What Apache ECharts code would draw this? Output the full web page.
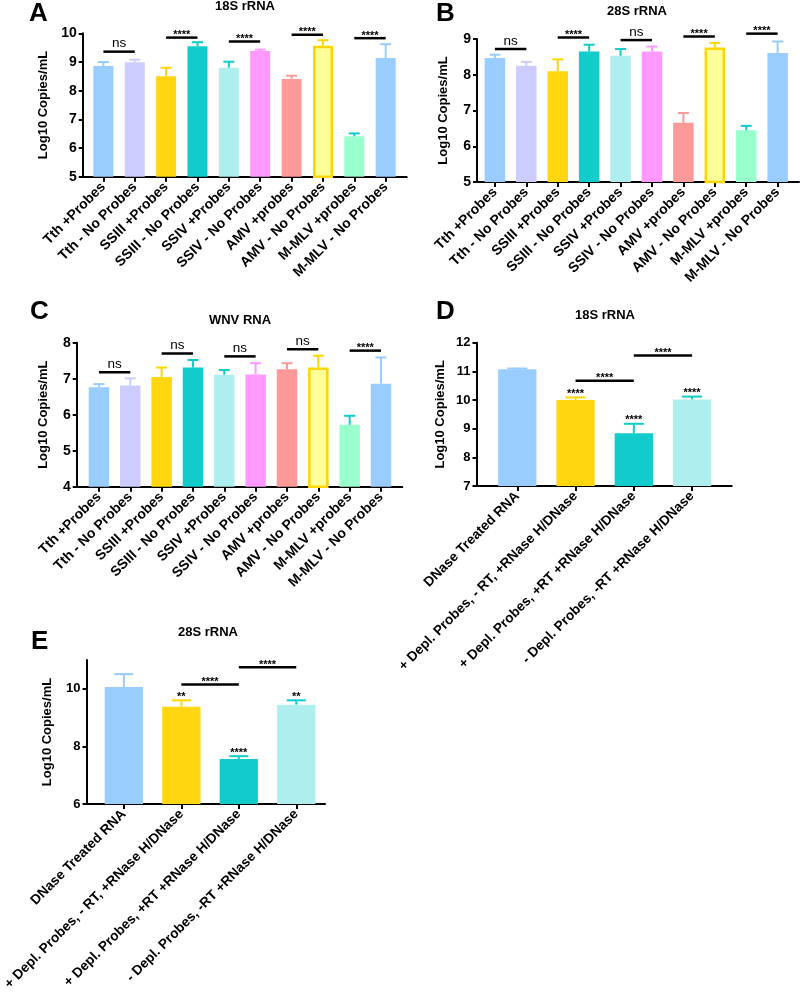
<!DOCTYPE html>
<html>
<head>
<meta charset="utf-8">
<script src="https://cdn.jsdelivr.net/npm/echarts@6/dist/echarts.min.js"></script>
<style>html,body{margin:0;padding:0;background:#fff}#c{width:800px;height:998px}</style>
</head>
<body>
<div id="c"></div>
<script>
// ---------- data ----------
const catsABC = ['Tth +Probes','Tth - No Probes','SSIII +Probes','SSIII - No Probes','SSIV +Probes','SSIV - No Probes','AMV +probes','AMV - No Probes','M-MLV +probes','M-MLV - No Probes'];
const catsDE = ['DNase Treated RNA','+ Depl. Probes, - RT, +RNase H/DNase','+ Depl. Probes, +RT +RNase H/DNase','- Depl. Probes, -RT +RNase H/DNase'];

const aMean = [8.86, 8.99, 8.50, 9.55, 8.80, 9.38, 8.41, 9.57, 6.41, 9.14];
const aSD   = [0.14, 0.09, 0.30, 0.14, 0.21, 0.05, 0.11, 0.19, 0.10, 0.48];
const bMean = [8.47, 8.25, 8.10, 8.65, 8.53, 8.65, 6.66, 8.76, 6.45, 8.61];
const bSD   = [0.09, 0.11, 0.33, 0.19, 0.19, 0.14, 0.27, 0.13, 0.12, 0.32];
const cMean = [6.76, 6.81, 7.05, 7.31, 7.11, 7.12, 7.26, 7.31, 5.72, 6.86];
const cSD   = [0.09, 0.20, 0.26, 0.21, 0.13, 0.31, 0.17, 0.33, 0.25, 0.73];
const dMean = [11.07, 10.00, 8.84, 10.02];
const dSD   = [0.03, 0.09, 0.33, 0.10];
const eMean = [10.06, 9.38, 7.56, 9.45];
const eSD   = [0.45, 0.22, 0.10, 0.15];

// significance brackets: [from category, to category, y value, label]
const aSig = [[0,1,9.36,'ns'],[2,3,9.85,'****'],[4,5,9.71,'****'],[6,7,9.95,'****'],[8,9,9.83,'****']];
const bSig = [[0,1,8.72,'ns'],[2,3,9.04,'****'],[4,5,8.97,'ns'],[6,7,9.07,'****'],[8,9,9.15,'****']];
const cSig = [[0,1,7.18,'ns'],[2,3,7.70,'ns'],[4,5,7.62,'ns'],[6,7,7.82,'ns'],[8,9,7.78,'****']];
const dSig = [[1,2,10.67,'****'],[2,3,11.55,'****']];
const eSig = [[1,2,10.15,'****'],[2,3,10.75,'****']];
const dStars = ['', '****', '****', '****'];
const eStars = ['', '**', '****', '**'];

const yTicksA = [5,6,7,8,9,10];
const yTicksB = [5,6,7,8,9];
const yTicksC = [4,5,6,7,8];
const yTicksD = [7,8,9,10,11,12];
const yTicksE = [6,8,10];

// ---------- styles ----------
const FONT = '"Liberation Sans", Arial, Helvetica, sans-serif';
const fillABC = ['#99CCFF','#CCCCFF','#FFD60F','#12CCCC','#AFEEEE','#FF99FF','#FF9999','#FFFF99','#99FFCC','#99CCFF'];
const errABC  = ['#99CCFF','#CCCCFF','#FFD700','#12CCCC','#12CCCC','#FF99FF','#FF9999','#FFD700','#12CCCC','#99CCFF'];
const borderABC = [null,null,null,null,null,null,null,'#FFD700',null,null];
const fillDE = ['#99CCFF','#FFD60F','#12CCCC','#AFEEEE'];
const errDE  = ['#99CCFF','#FFD700','#12CCCC','#12CCCC'];

const panels = [
  {key:'A', cats:catsABC, mean:aMean, sd:aSD, sig:aSig, stars:null, yTicks:yTicksA, ymin:5, ymax:10,
   left:82.7, width:324, top:33.3, height:143.4, xmin:-0.66, xmax:9.67, barW:20, cap:11, fs:14, yfs:14, nameGap:33,
   fill:fillABC, err:errABC, border:borderABC},
  {key:'B', cats:catsABC, mean:bMean, sd:bSD, sig:bSig, stars:null, yTicks:yTicksB, ymin:5, ymax:9,
   left:477, width:322, top:39, height:143, xmin:-0.57, xmax:9.68, barW:20.5, cap:11, fs:14, yfs:14, nameGap:27,
   fill:fillABC, err:errABC, border:borderABC},
  {key:'C', cats:catsABC, mean:cMean, sd:cSD, sig:cSig, stars:null, yTicks:yTicksC, ymin:4, ymax:8,
   left:76.7, width:325.6, top:342.7, height:144, xmin:-0.71, xmax:9.68, barW:20.5, cap:11, fs:14, yfs:14, nameGap:27,
   fill:fillABC, err:errABC, border:borderABC},
  {key:'D', cats:catsDE, mean:dMean, sd:dSD, sig:dSig, stars:dStars, yTicks:yTicksD, ymin:7, ymax:12,
   left:476.5, width:255.2, top:342.7, height:143.3, xmin:-0.70, xmax:3.68, barW:38.3, cap:20, fs:13.7, yfs:13, nameGap:29.5,
   fill:fillDE, err:errDE, border:[null,null,null,null]},
  {key:'E', cats:catsDE, mean:eMean, sd:eSD, sig:eSig, stars:eStars, yTicks:yTicksE, ymin:6, ymax:11,
   left:82.7, width:242.3, top:660, height:144, xmin:-0.65, xmax:3.50, barW:38.3, cap:19, fs:13.7, yfs:13, nameGap:32.7,
   fill:fillDE, err:errDE, border:[null,null,null,null]}
];

const grid = [], xAxis = [], yAxis = [], series = [];
const axisLineStyle = {color:'#000', width:2};

panels.forEach((p, k) => {
  grid.push({left:p.left, top:p.top, width:p.width, height:p.height, containLabel:false});
  const idx = p.cats.map((_, i) => i);
  xAxis.push({
    type:'value', gridIndex:k, min:p.xmin, max:p.xmax,
    splitLine:{show:false},
    axisLine:{show:true, onZero:false, lineStyle:axisLineStyle},
    axisTick:{show:true, customValues:idx, length:5, lineStyle:{color:'#000', width:2}},
    axisLabel:{customValues:idx, rotate:45, margin:8, color:'#000', fontFamily:FONT, fontWeight:'bold', fontSize:p.fs,
      formatter: v => p.cats[Math.round(v)] || ''}
  });
  yAxis.push({
    type:'value', gridIndex:k, min:p.ymin, max:p.ymax,
    name:'Log10 Copies/mL', nameLocation:'middle', nameGap:p.nameGap,
    nameTextStyle:{color:'#000', fontFamily:FONT, fontWeight:'bold', fontSize:13},
    splitLine:{show:false},
    axisLine:{show:true, onZero:false, lineStyle:axisLineStyle},
    axisTick:{show:true, customValues:p.yTicks, length:4, lineStyle:{color:'#000', width:2}},
    axisLabel:{customValues:p.yTicks, margin:6, color:'#000', fontFamily:FONT, fontWeight:'bold', fontSize:p.yfs}
  });
  // bars
  series.push({
    type:'bar', xAxisIndex:k, yAxisIndex:k, barWidth:p.barW,
    data: p.mean.map((v, i) => ({
      value:[i, v],
      itemStyle:{color:p.fill[i], borderColor:p.border[i] || p.fill[i], borderWidth:p.border[i] ? 2.5 : 0}
    })),
    z:2, silent:true
  });
  // error bars
  series.push({
    type:'custom', xAxisIndex:k, yAxisIndex:k, z:3, silent:true,
    data: p.mean.map((v, i) => [i, v, p.sd[i]]),
    renderItem: (params, api) => {
      const i = api.value(0), m = api.value(1), s = api.value(2);
      const p0 = api.coord([i, m]), p1 = api.coord([i, m + s]);
      const col = p.err[i];
      return {type:'group', children:[
        {type:'line', shape:{x1:p0[0], y1:p0[1], x2:p1[0], y2:p1[1]}, style:{stroke:col, lineWidth:2}},
        {type:'line', shape:{x1:p1[0]-p.cap/2, y1:p1[1], x2:p1[0]+p.cap/2, y2:p1[1]}, style:{stroke:col, lineWidth:2}}
      ]};
    }
  });
  // significance brackets
  series.push({
    type:'custom', xAxisIndex:k, yAxisIndex:k, z:4, silent:true, clip:false,
    data: p.sig.map(s => [s[0], s[1], s[2]]),
    renderItem: (params, api) => {
      const s = p.sig[params.dataIndex];
      const a = api.coord([s[0], s[2]]), b = api.coord([s[1], s[2]]);
      const isNs = s[3] === 'ns';
      return {type:'group', children:[
        {type:'line', shape:{x1:a[0], y1:a[1], x2:b[0], y2:b[1]}, style:{stroke:'#000', lineWidth:2.5}},
        {type:'text', x:(a[0]+b[0])/2, y:a[1] + (isNs ? -1 : 3),
          style:{text:s[3], fill:'#000', align:'center', verticalAlign:'bottom',
            font:(isNs ? 'normal 13.5px ' : 'bold 11px ') + FONT}}
      ]};
    }
  });
  // stars over bars (D, E)
  if (p.stars) {
    series.push({
      type:'custom', xAxisIndex:k, yAxisIndex:k, z:4, silent:true, clip:false,
      data: p.mean.map((v, i) => [i, v + p.sd[i]]),
      renderItem: (params, api) => {
        const i = params.dataIndex;
        const c = api.coord([api.value(0), api.value(1)]);
        return {type:'text', x:c[0], y:c[1] + 2,
          style:{text:p.stars[i], fill:'#000', align:'center', verticalAlign:'bottom', font:'bold 11px ' + FONT}};
      }
    });
  }
});

const titleStyle = {color:'#000', fontFamily:FONT, fontWeight:'bold', fontSize:13};
const letterStyle = {color:'#000', fontFamily:FONT, fontWeight:'bold', fontSize:26};
const title = [
  {text:'A', left:29, top:1, padding:0, textStyle:letterStyle},
  {text:'B', left:436, top:1, padding:0, textStyle:letterStyle},
  {text:'C', left:30, top:299, padding:0, textStyle:letterStyle},
  {text:'D', left:436, top:299, padding:0, textStyle:letterStyle},
  {text:'E', left:31, top:629, padding:0, textStyle:letterStyle},
  {text:'18S rRNA', left:245, top:0, padding:0, textAlign:'center', textStyle:titleStyle},
  {text:'28S rRNA', left:637, top:5, padding:0, textAlign:'center', textStyle:titleStyle},
  {text:'WNV RNA', left:240, top:314, padding:0, textAlign:'center', textStyle:titleStyle},
  {text:'18S rRNA', left:605, top:309, padding:0, textAlign:'center', textStyle:titleStyle},
  {text:'28S rRNA', left:208, top:626, padding:0, textAlign:'center', textStyle:titleStyle}
];

const chart = echarts.init(document.getElementById('c'), null, {renderer:'canvas', width:800, height:998});
chart.setOption({backgroundColor:'#fff', animation:false, title, grid, xAxis, yAxis, series});
</script>
</body>
</html>
